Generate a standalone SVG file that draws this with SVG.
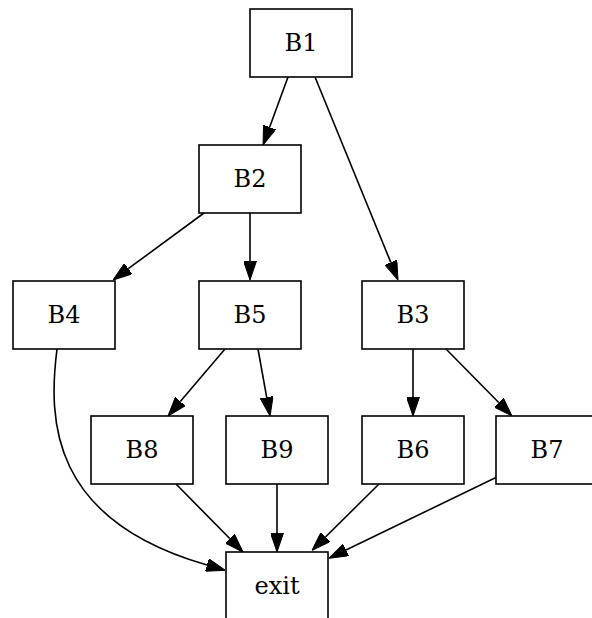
<svg xmlns="http://www.w3.org/2000/svg" width="592" height="618" viewBox="0 0 592 618">
<style>
.n rect{fill:#fff;stroke:#000;stroke-width:1.6}
.n text{font-family:"DejaVu Serif","Liberation Serif",serif;font-size:24px;text-anchor:middle;fill:#000}
.e path{fill:none;stroke:#000;stroke-width:1.6}
</style>
<defs>
<marker id="ah" viewBox="0 0 19 13" refX="0" refY="6.5" markerWidth="19" markerHeight="13" markerUnits="userSpaceOnUse" orient="auto">
<path d="M0,0 L19,6.5 L0,13 Z" fill="#000" stroke="#000" stroke-width="1"/>
</marker>
</defs>
<rect width="592" height="618" fill="#fff"/>
<g id="connectors" class="e">
<path d="M288,77 L269.6,127.2" marker-end="url(#ah)"/>
<path d="M315,77 L390.8,262.4" marker-end="url(#ah)"/>
<path d="M204,213 L128.3,268.7" marker-end="url(#ah)"/>
<path d="M250,213 L250,261" marker-end="url(#ah)"/>
<path d="M225,349 L180.3,401.5" marker-end="url(#ah)"/>
<path d="M258,349 L266.7,397.3" marker-end="url(#ah)"/>
<path d="M413,349 L413,397" marker-end="url(#ah)"/>
<path d="M446,349 L498.7,402.5" marker-end="url(#ah)"/>
<path d="M176,484 L229.7,538.5" marker-end="url(#ah)"/>
<path d="M277,484 L277,533" marker-end="url(#ah)"/>
<path d="M379,484 L325.5,537" marker-end="url(#ah)"/>
<path d="M497,477 L346,550" marker-end="url(#ah)"/>
<path d="M57,349 C48,420 50,520 207,565" marker-end="url(#ah)"/>
</g>
<g id="B1" class="n"><rect x="250" y="9" width="102" height="68"/><text x="301" y="51">B1</text></g>
<g id="B2" class="n"><rect x="199" y="145" width="102" height="68"/><text x="250" y="187">B2</text></g>
<g id="B4" class="n"><rect x="13" y="281" width="102" height="68"/><text x="64" y="323">B4</text></g>
<g id="B5" class="n"><rect x="199" y="281" width="102" height="68"/><text x="250" y="323">B5</text></g>
<g id="B3" class="n"><rect x="362" y="281" width="102" height="68"/><text x="413" y="323">B3</text></g>
<g id="B8" class="n"><rect x="91" y="416" width="102" height="68"/><text x="142" y="458">B8</text></g>
<g id="B9" class="n"><rect x="226" y="416" width="102" height="68"/><text x="277" y="458">B9</text></g>
<g id="B6" class="n"><rect x="362" y="416" width="102" height="68"/><text x="413" y="458">B6</text></g>
<g id="B7" class="n"><rect x="496" y="416" width="102" height="68"/><text x="547" y="458">B7</text></g>
<g id="exit" class="n"><rect x="226" y="552" width="102" height="68"/><text x="277" y="594">exit</text></g>
</svg>
